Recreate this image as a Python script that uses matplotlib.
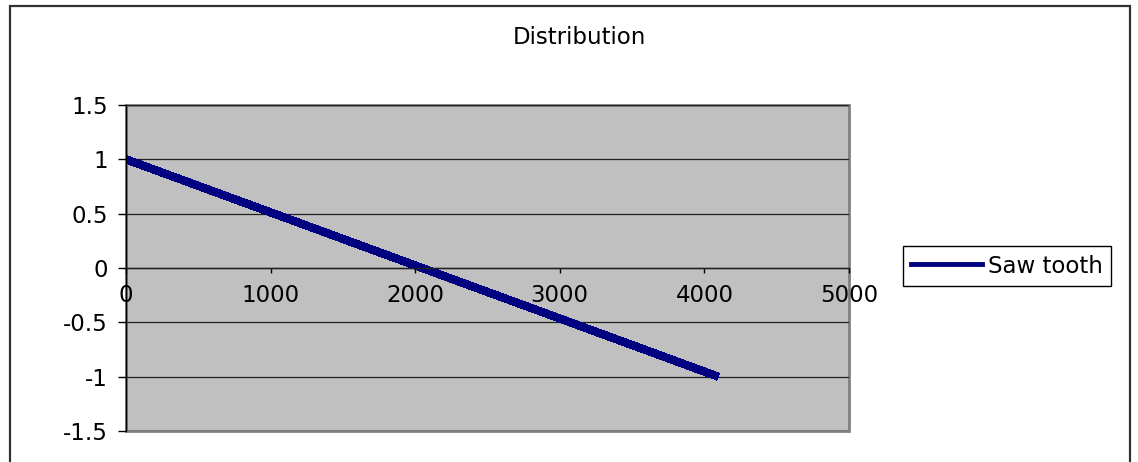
import matplotlib
matplotlib.use("Agg")
import matplotlib.pyplot as plt
from matplotlib.patches import Rectangle
from matplotlib.lines import Line2D

# Saw tooth samples (sample index, amplitude)
sample_index = [0, 512, 1024, 1536, 2048, 2560, 3072, 3584, 4095]
amplitude = [1.0, 0.75, 0.5, 0.25, 0.0, -0.25, -0.5, -0.75, -1.0]

x_ticks = [0, 1000, 2000, 3000, 4000, 5000]
x_tick_labels = ["0", "1000", "2000", "3000", "4000", "5000"]
y_ticks = [-1.5, -1, -0.5, 0, 0.5, 1, 1.5]
y_tick_labels = ["-1.5", "-1", "-0.5", "0", "0.5", "1", "1.5"]

title = "Distribution"
series_name = "Saw tooth"

W, H = 1138, 462
FS = 16.5
plt.rcParams["font.family"] = ["DejaVu Sans"]
fig = plt.figure(figsize=(W / 100, H / 100), dpi=100)
fig.patch.set_facecolor("white")

# outer chart frame
fig.patches.append(Rectangle((10 / W, -0.05), (1130 - 10) / W, (H - 6) / H + 0.05,
                             transform=fig.transFigure, fill=False,
                             edgecolor="#303030", linewidth=1.6, clip_on=False))

ax = fig.add_axes([126 / W, (H - 431) / H, (849 - 126) / W, (431 - 105) / H])
ax.set_facecolor("#C0C0C0")
ax.patch.set_edgecolor("#808080")
ax.patch.set_linewidth(2.0)

ax.set_xlim(0, 5000)
ax.set_ylim(-1.5, 1.5)

for s in ("top", "right"):
    ax.spines[s].set_visible(False)
ax.spines["left"].set_color("black")
ax.spines["left"].set_linewidth(1.0)
ax.spines["bottom"].set_position(("data", 0))
ax.spines["bottom"].set_color("#202020")
ax.spines["bottom"].set_linewidth(1.0)

ax.set_yticks(y_ticks)
ax.set_yticklabels(y_tick_labels)
ax.set_xticks(x_ticks)
ax.set_xticklabels(x_tick_labels)
ax.tick_params(axis="y", direction="out", length=6, width=1, pad=7, labelsize=FS, colors="black")
ax.tick_params(axis="x", direction="out", length=3.5, width=1, pad=8, labelsize=FS, colors="black")

ax.yaxis.grid(True, color="#202020", linewidth=0.9)
ax.set_axisbelow(True)

ax.plot(sample_index, amplitude, color="#000080", linewidth=5.2,
        solid_capstyle="butt", antialiased=False)

fig.text(579 / W, 1 - 38 / H, title, ha="center", va="center", fontsize=FS)

handle = Line2D([], [], color="#000080", linewidth=3.5)
leg = fig.legend([handle], [series_name], loc="center left",
                 bbox_to_anchor=(903 / W, 1 - 266 / H), fontsize=FS,
                 frameon=True, fancybox=False, framealpha=1, edgecolor="black",
                 handlelength=3.1, handletextpad=0.25, borderpad=0.35,
                 borderaxespad=0)
leg.get_frame().set_linewidth(1.0)

fig.savefig("out.png", dpi=100)
